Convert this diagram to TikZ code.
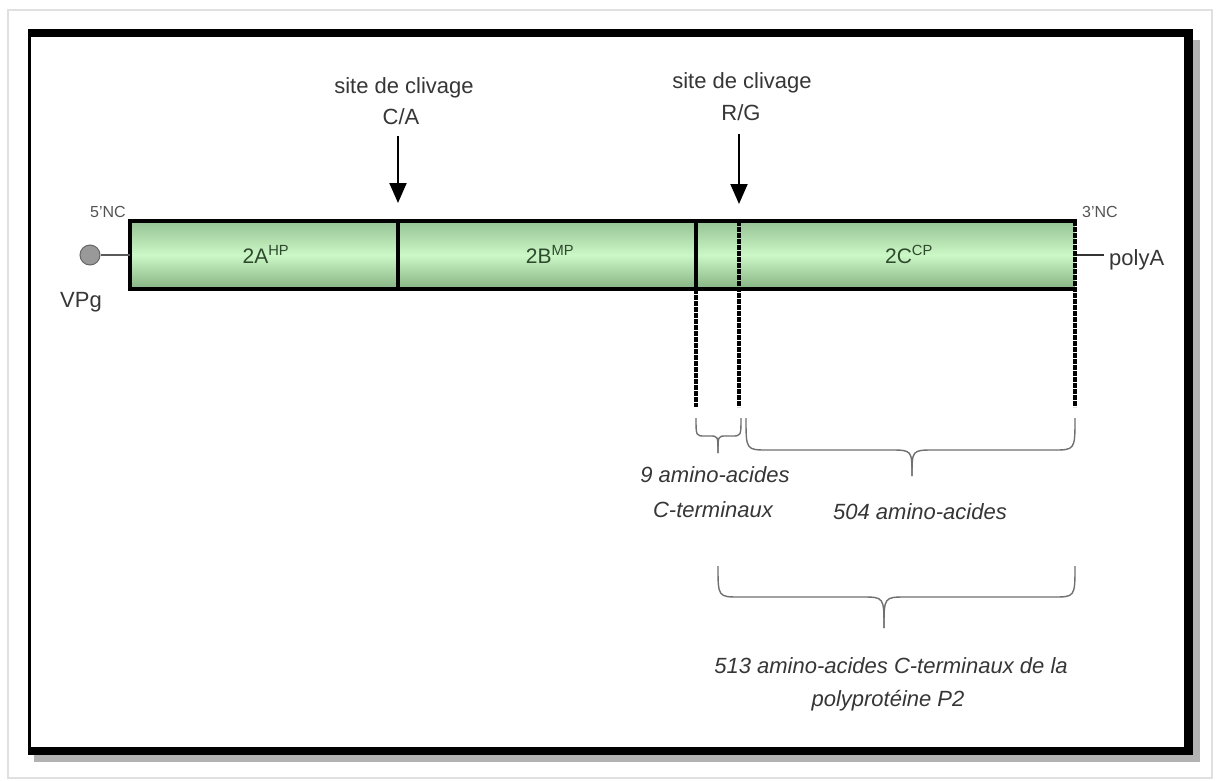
\documentclass[tikz,border=0pt]{standalone}
\usepackage{fontspec}
\setmainfont{Liberation Sans}
\usetikzlibrary{arrows.meta}
\definecolor{txt}{HTML}{363636}
\definecolor{bartxt}{HTML}{2E4A2E}
\definecolor{brc}{HTML}{707070}
\definecolor{gtop}{HTML}{96C394}
\definecolor{gmid}{HTML}{CCF7C6}
\definecolor{gbot}{HTML}{86B384}
\tikzset{
  lbl/.style={inner sep=0pt, anchor=base, text=txt, font=\fontsize{22}{26}\selectfont},
  ilbl/.style={lbl, font=\fontsize{22}{26}\selectfont\itshape},
  small/.style={inner sep=0pt, anchor=base, text=txt!85, font=\fontsize{16}{18}\selectfont},
  seglbl/.style={inner sep=0pt, anchor=base, text=bartxt, font=\fontsize{21}{24}\selectfont},
  edge/.style={line width=4pt, black},
  dashedge/.style={line width=4.5pt, black, dash pattern=on 5pt off 1pt},
  brace/.style={line width=1.4pt, brc},
  cleave/.style={line width=2pt, black, -{Triangle[length=20pt,width=17pt]}}
}
\begin{document}
\begin{tikzpicture}[x=1pt,y=-1pt]
\useasboundingbox (0,0) rectangle (1216,780);
\fill[white] (0,0) rectangle (1216,780);
% outer page frame
\draw[line width=1.2pt, black!12] (8,10) rectangle (1212,778);
% shadow
\fill[black!30] (1193,40) rectangle (1200,762);
\fill[black!30] (34,755) rectangle (1200,762);
% black frame
\fill[black] (28,29) rectangle (1193,755);
\fill[white] (31,37) rectangle (1184,747);

% bar
\shade[top color=gtop, bottom color=gbot, middle color=gmid] (130,221) rectangle (1075,289);
\coordinate (bl) at (130,221);
\coordinate (br) at (1075,221);
\coordinate (blb) at (130,289);
\coordinate (brb) at (1075,289);
\draw[edge, line cap=rect] (blb) -- (bl) -- (br);
\draw[edge, line cap=rect] (blb) -- (brb);
\draw[dashedge] (br) -- (1075,407);
\coordinate (d1t) at (398,221); \coordinate (d1b) at (398,289);
\coordinate (d2t) at (696,221); \coordinate (d2b) at (696,407);
\coordinate (d3t) at (739,221); \coordinate (d3b) at (739,407);
\draw[edge] (d1t) -- (d1b);
\draw[edge] (d2t) -- (696,289);
\draw[dashedge] (696,289) -- (d2b);
\draw[dashedge] (d3t) -- (d3b);

% segment labels
\node[seglbl] (a) at (266,263) {2A\textsuperscript{HP}};
\node[seglbl] (b) at (550,263) {2B\textsuperscript{MP}};
\node[seglbl] (c) at (909,263) {2C\textsuperscript{CP}};

% VPg and polyA
\node[circle, draw=black!60, fill=black!40, line width=1pt, minimum size=20pt, inner sep=0pt] (vpg) at (90,255) {};
\draw[line width=2pt, black!65] (vpg.east) -- (130,255);
\node[lbl] (vpgl) at (81,307) {VPg};
\coordinate (pa1) at (1077,255);
\coordinate (pa2) at (1104,255);
\draw[line width=2pt, black!80] (pa1) -- (pa2);
\node[lbl, anchor=base west] (polya) at (1109,265) {polyA};
\node[small] (nc5) at (108,217) {5'NC};
\node[small, anchor=base west] (nc3) at (1082,217) {3'NC};

% cleavage sites
\node[lbl] (s1a) at (404,93) {site de clivage};
\node[lbl] (s1b) at (401,124) {C/A};
\coordinate (s1s) at (398,136);
\coordinate (s1e) at (398,203);
\draw[cleave] (s1s) -- (s1e);
\node[lbl] (s2a) at (742,88) {site de clivage};
\node[lbl] (s2b) at (741,120) {R/G};
\coordinate (s2s) at (739,134);
\coordinate (s2e) at (739,204);
\draw[cleave] (s2s) -- (s2e);

% braces
\draw[brace] (696,418) .. controls (696,436) .. (705,436) -- (710,436) .. controls (718,436) .. (718,453);
\draw[brace] (741,418) .. controls (741,436) .. (732,436) -- (726,436) .. controls (718,436) .. (718,453);
\draw[brace] (746,418) .. controls (746,450) .. (768,450) -- (890,450) .. controls (912,450) .. (912,476);
\draw[brace] (1075,418) .. controls (1075,450) .. (1053,450) -- (934,450) .. controls (912,450) .. (912,476);
\draw[brace] (718,566) .. controls (718,597) .. (740,597) -- (862,597) .. controls (884,597) .. (884,628);
\draw[brace] (1075,566) .. controls (1075,597) .. (1053,597) -- (906,597) .. controls (884,597) .. (884,628);

% amino acid labels
\node[ilbl] (n9a) at (715,482) {9 amino-acides};
\node[ilbl] (n9b) at (713,517) {C-terminaux};
\node[ilbl] (n504) at (920,519) {504 amino-acides};
\node[ilbl] (n513a) at (891,673) {513 amino-acides C-terminaux de la};
\node[ilbl] (n513b) at (888,706) {polyprotéine P2};
\end{tikzpicture}
\end{document}
